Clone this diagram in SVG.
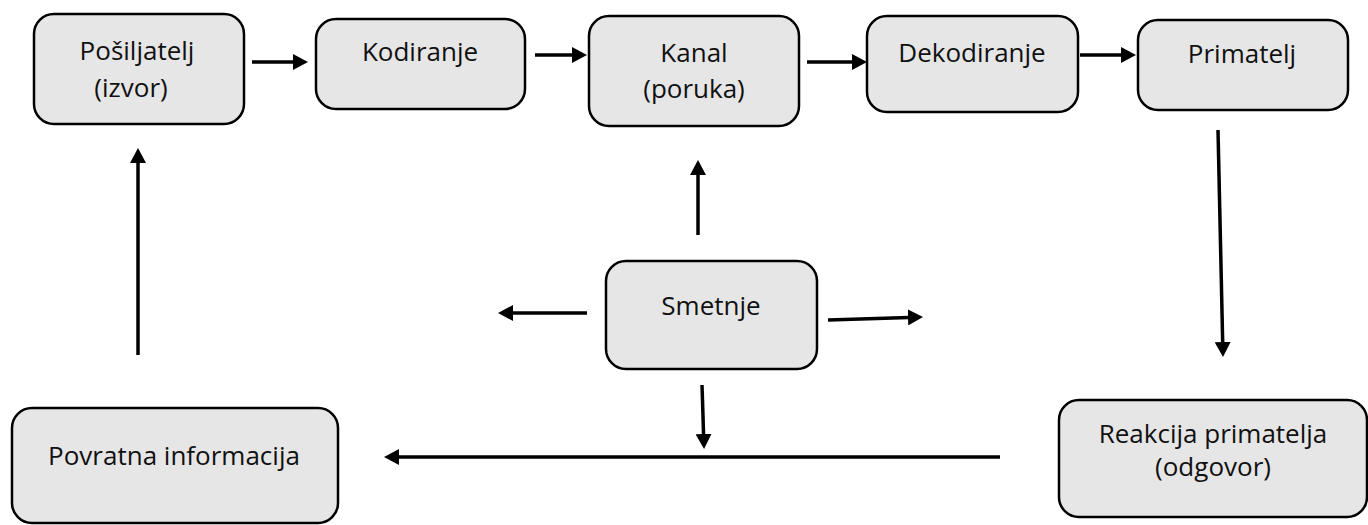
<svg xmlns="http://www.w3.org/2000/svg" width="1368" height="525" viewBox="0 0 1368 525">
<style>
.box{fill:#e6e6e6;stroke:#000;stroke-width:2.5}
.lbl{font-family:"Open Sans","Noto Sans","Liberation Sans",sans-serif;font-size:26px;fill:#111;text-anchor:middle}
.arr{stroke:#000;stroke-width:3.5;fill:none;marker-end:url(#ah)}
</style>
<defs>
<marker id="ah" markerUnits="userSpaceOnUse" markerWidth="16" markerHeight="16" refX="1" refY="8" orient="auto" viewBox="0 0 16 16">
<path d="M0,0 L15,8 L0,16 Z" fill="#000"/>
</marker>
</defs>
<rect width="1368" height="525" fill="#fff"/>
<g id="posiljatelj"><rect class="box" x="34" y="14" width="210" height="110" rx="20"/><text class="lbl" x="137" y="60">Pošiljatelj</text><text class="lbl" x="131" y="97">(izvor)</text></g>
<g id="kodiranje"><rect class="box" x="316" y="19" width="209" height="90" rx="20"/><text class="lbl" x="420" y="61">Kodiranje</text></g>
<g id="kanal"><rect class="box" x="589" y="16" width="210" height="110" rx="20"/><text class="lbl" x="694" y="62">Kanal</text><text class="lbl" x="694" y="98">(poruka)</text></g>
<g id="dekodiranje"><rect class="box" x="867" y="16" width="211" height="96" rx="20"/><text class="lbl" x="972" y="62">Dekodiranje</text></g>
<g id="primatelj"><rect class="box" x="1138" y="20" width="210" height="90" rx="20"/><text class="lbl" x="1242" y="63">Primatelj</text></g>
<g id="smetnje"><rect class="box" x="606" y="261" width="211" height="108" rx="20"/><text class="lbl" x="711" y="315">Smetnje</text></g>
<g id="povratna"><rect class="box" x="12" y="408" width="326" height="115" rx="20"/><text class="lbl" x="174" y="465">Povratna informacija</text></g>
<g id="reakcija"><rect class="box" x="1059" y="400" width="308" height="117" rx="20"/><text class="lbl" x="1213" y="443">Reakcija primatelja</text><text class="lbl" x="1213" y="476">(odgovor)</text></g>
<g id="connectors">
<line class="arr" x1="252" y1="62" x2="294" y2="62"/>
<line class="arr" x1="535" y1="55" x2="573" y2="55"/>
<line class="arr" x1="807" y1="62" x2="853" y2="62"/>
<line class="arr" x1="1080" y1="55" x2="1122" y2="55"/>
<line class="arr" x1="698" y1="235" x2="698" y2="174"/>
<line class="arr" x1="587" y1="313" x2="512" y2="313"/>
<line class="arr" x1="828" y1="320" x2="909" y2="317.4"/>
<line class="arr" x1="702" y1="385" x2="703.6" y2="435"/>
<line class="arr" x1="1000" y1="457" x2="398" y2="457"/>
<line class="arr" x1="1218" y1="130" x2="1222.7" y2="343"/>
<line class="arr" x1="138" y1="355" x2="138" y2="162"/>
</g>
</svg>
